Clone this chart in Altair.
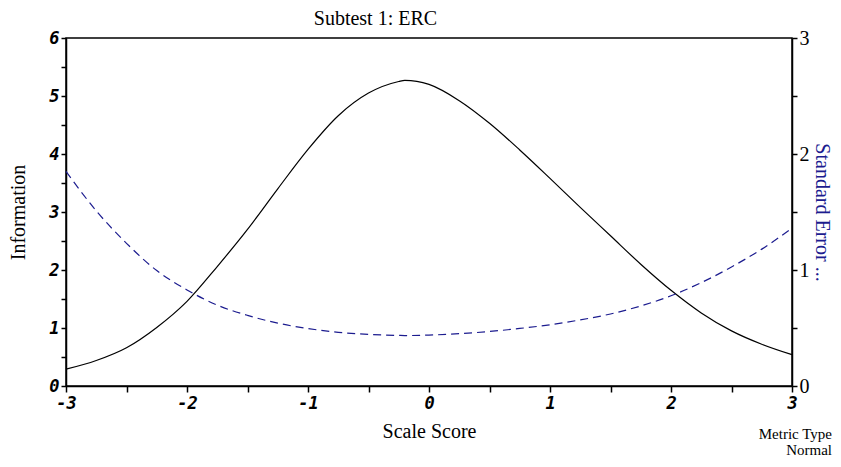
import altair as alt
import pandas as pd

# ---- data ----
scale_score = [-3.0, -2.75, -2.5, -2.25, -2.0, -1.75, -1.5, -1.25, -1.0, -0.75, -0.5, -0.25, -0.2,
               0.0, 0.25, 0.5, 0.75, 1.0, 1.25, 1.5, 1.75, 2.0, 2.25, 2.5, 2.75, 3.0]
information = [0.29, 0.44, 0.66, 1.01, 1.46, 2.06, 2.70, 3.40, 4.08, 4.66, 5.05, 5.25, 5.27,
               5.20, 4.92, 4.53, 4.07, 3.58, 3.08, 2.59, 2.10, 1.65, 1.26, 0.95, 0.72, 0.54]
std_error = [1.85, 1.51, 1.23, 0.995, 0.828, 0.697, 0.609, 0.542, 0.495, 0.463, 0.445, 0.436, 0.435,
             0.439, 0.451, 0.47, 0.496, 0.528, 0.57, 0.621, 0.69, 0.778, 0.891, 1.026, 1.18, 1.36]

x_ticks = [-3, -2.5, -2, -1.5, -1, -0.5, 0, 0.5, 1, 1.5, 2, 2.5, 3]
info_ticks = [0, 0.5, 1, 1.5, 2, 2.5, 3, 3.5, 4, 4.5, 5, 5.5, 6]
se_ticks = [0, 0.5, 1, 1.5, 2, 2.5, 3]

title_text = "Subtest 1: ERC"
x_title = "Scale Score"
left_title = "Information"
right_title = "Standard Error ..."
note_lines = ["Metric Type", "Normal"]

df = pd.DataFrame({"x": scale_score, "info": information, "se": std_error})

SERIF = "Liberation Serif"
MONO = "DejaVu Sans Mono"
NAVY = "#1c1c8f"
int_label = "abs(datum.value % 1) < 0.001 ? '' + datum.value : ''"

x_enc = alt.X(
    "x:Q",
    scale=alt.Scale(domain=[-3, 3], nice=False, zero=False),
    axis=alt.Axis(
        values=x_ticks, labelExpr=int_label, grid=False, labelFlush=False,
        labelFont=MONO, labelFontWeight="bold", labelFontStyle="italic", labelFontSize=17,
        labelColor="black", labelPadding=3, tickSize=6, tickColor="black", tickWidth=1.5,
        domainColor="black", domainWidth=1.5,
        title=x_title, titleFont=SERIF, titleFontSize=20, titleFontWeight="normal",
        titleColor="black", titlePadding=10,
    ),
)

info_line = alt.Chart(df).mark_line(color="black", strokeWidth=1.2, interpolate="monotone").encode(
    x=x_enc,
    y=alt.Y(
        "info:Q",
        scale=alt.Scale(domain=[0, 6], nice=False),
        axis=alt.Axis(
            orient="left", values=info_ticks, labelExpr=int_label, grid=False, labelFlush=False,
            labelFont=MONO, labelFontWeight="bold", labelFontStyle="italic", labelFontSize=17,
            labelColor="black", labelPadding=2, tickSize=5, tickColor="black", tickWidth=1.5,
            domainColor="black", domainWidth=1.5,
            title=left_title, titleFont=SERIF, titleFontSize=20, titleFontWeight="normal",
            titleColor="black", titlePadding=20,
        ),
    ),
)

se_line = alt.Chart(df).mark_line(color=NAVY, strokeWidth=1.2, strokeDash=[8, 5],
                                  interpolate="monotone").encode(
    x=x_enc,
    y=alt.Y(
        "se:Q",
        scale=alt.Scale(domain=[0, 3], nice=False),
        axis=alt.Axis(
            orient="right", values=se_ticks, labelExpr=int_label, grid=False, labelFlush=False,
            labelFont=SERIF, labelFontSize=20, labelColor="black", labelPadding=2,
            tickSize=5, tickColor="black", tickWidth=1.5,
            domainColor="black", domainWidth=1.5,
            title=right_title, titleFont=SERIF, titleFontSize=20, titleFontWeight="normal",
            titleColor=NAVY, titlePadding=2,
        ),
    ),
)

note1 = alt.Chart(pd.DataFrame({"t": [note_lines[0]]})).mark_text(
    font=SERIF, fontSize=15, align="right", baseline="alphabetic", color="black"
).encode(x=alt.value(766), y=alt.value(401), text="t:N")
note2 = alt.Chart(pd.DataFrame({"t": [note_lines[1]]})).mark_text(
    font=SERIF, fontSize=15, align="right", baseline="alphabetic", color="black"
).encode(x=alt.value(766), y=alt.value(417), text="t:N")

chart = (
    alt.layer(info_line, se_line, note1, note2)
    .resolve_scale(y="independent")
    .properties(
        width=726,
        height=348,
        title=alt.TitleParams(
            title_text, anchor="start", dx=305, dy=9, font=SERIF, fontSize=20,
            fontWeight="normal", color="black", offset=8,
        ),
        autosize=alt.AutoSizeParams(type="none"),
        padding={"left": 58, "top": 30, "right": 41, "bottom": 72},
    )
    .configure_view(stroke="black", strokeWidth=1.5)
)

chart.save("out.html", embed_options={"renderer": "svg", "actions": False})
